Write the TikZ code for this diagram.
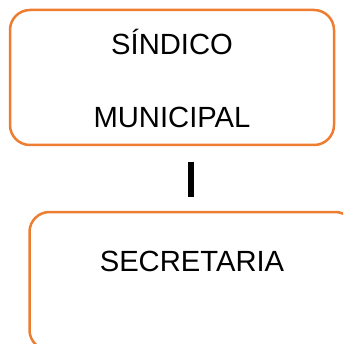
\documentclass[tikz,border=0pt]{standalone}
\usepackage{fontspec}
\setmainfont{Liberation Sans}
\definecolor{boxorange}{HTML}{ED7D31}
\begin{document}
\begin{tikzpicture}[x=1pt,y=-1pt,
  roundbox/.style={draw=boxorange,line width=2.5pt,rounded corners=20pt},
  lbl/.style={font=\fontsize{29.2}{35}\selectfont,inner sep=0pt,anchor=base},
  bar/.style={line width=6pt,black}]
\useasboundingbox (0,0) rectangle (343,344);
\begin{scope}
\clip (0,0) rectangle (343,344);
\draw[roundbox] (10,10) rectangle (334,145);
\draw[roundbox] (29.5,212) rectangle (355,350);
\end{scope}
\node[lbl] (t1) at (172,55) {SÍNDICO};
\node[lbl] (t2) at (172,127.7) {MUNICIPAL};
\node[lbl] (t3) at (192,271.7) {SECRETARIA};
\coordinate (b1) at (191,162);
\coordinate (b2) at (191,197);
\draw[bar] (b1) -- (b2);
\end{tikzpicture}
\end{document}
